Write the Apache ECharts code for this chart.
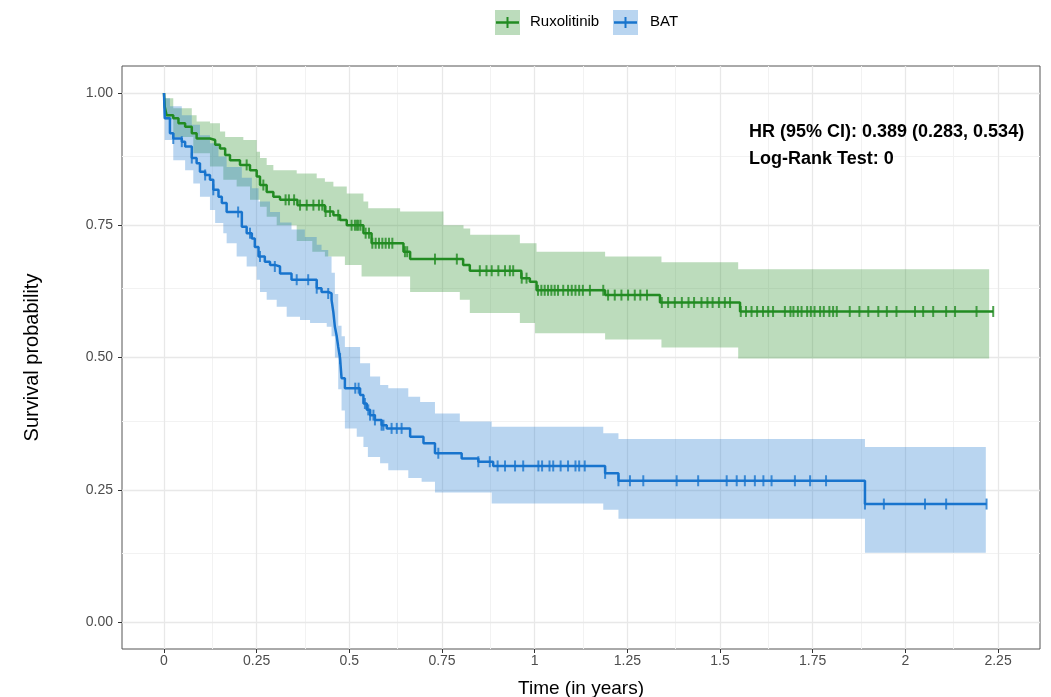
<!DOCTYPE html>
<html>
<head>
<meta charset="utf-8">
<script src="https://cdn.jsdelivr.net/npm/echarts@6/dist/echarts.min.js"></script>
<style>
  html, body { margin: 0; padding: 0; background: #fff; }
  #chart { width: 1051px; height: 697px; }
</style>
</head>
<body>
<div id="chart"></div>
<script>
// Kaplan-Meier steps [time, survival]
const ruxKM = [[0,1],[0.002,0.974],[0.007,0.958],[0.025,0.952],[0.039,0.943],[0.057,0.936],[0.075,0.924],[0.088,0.914],
  [0.124,0.911],[0.138,0.902],[0.151,0.895],[0.165,0.883],[0.178,0.873],[0.205,0.864],[0.232,0.854],[0.25,0.842],
  [0.259,0.826],[0.277,0.813],[0.295,0.804],[0.313,0.798],[0.36,0.788],[0.434,0.776],[0.457,0.769],[0.475,0.76],
  [0.493,0.75],[0.538,0.735],[0.56,0.716],[0.646,0.7],[0.664,0.686],[0.807,0.675],[0.825,0.664],[0.964,0.65],
  [0.987,0.643],[1.005,0.627],[1.19,0.618],[1.338,0.604],[1.554,0.587]];
const ruxEnd = 2.237;
const ruxUpper = [[0,1],[0.002,0.99],[0.025,0.971],[0.075,0.958],[0.088,0.946],[0.124,0.943],[0.151,0.927],[0.165,0.917],
  [0.214,0.911],[0.25,0.889],[0.259,0.877],[0.277,0.864],[0.295,0.854],[0.358,0.848],[0.412,0.839],[0.434,0.832],
  [0.457,0.823],[0.493,0.81],[0.538,0.795],[0.551,0.782],[0.637,0.776],[0.754,0.75],[0.808,0.744],[0.826,0.732],
  [0.96,0.716],[1.005,0.7],[1.19,0.691],[1.342,0.68],[1.549,0.667]];
const ruxLower = [[0,1],[0.002,0.95],[0.025,0.917],[0.079,0.886],[0.124,0.861],[0.16,0.836],[0.196,0.823],[0.232,0.798],
  [0.259,0.785],[0.277,0.766],[0.304,0.75],[0.358,0.72],[0.4,0.7],[0.434,0.691],[0.488,0.675],[0.533,0.653],
  [0.664,0.624],[0.798,0.609],[0.825,0.584],[0.96,0.565],[1.001,0.546],[1.19,0.534],[1.342,0.519],[1.549,0.498]];
const ruxBandEnd = 2.226;
const ruxCensor = [0.223,0.268,0.328,0.337,0.351,0.367,0.385,0.403,0.418,0.427,0.436,0.448,0.47,0.506,0.515,0.52,
  0.524,0.53,0.544,0.553,0.562,0.571,0.58,0.589,0.598,0.607,0.616,0.65,0.656,0.731,0.79,0.852,0.87,0.884,0.902,0.92,
  0.933,0.942,0.965,0.978,1.009,1.018,1.027,1.036,1.045,1.054,1.063,1.077,1.09,1.1,1.11,1.12,1.13,1.149,1.185,1.198,
  1.216,1.234,1.252,1.27,1.285,1.303,1.343,1.36,1.378,1.397,1.415,1.43,1.45,1.466,1.48,1.497,1.513,1.527,1.556,1.57,
  1.585,1.6,1.616,1.63,1.643,1.675,1.69,1.698,1.71,1.72,1.735,1.745,1.755,1.77,1.78,1.795,1.805,1.815,1.85,1.876,
  1.9,1.927,1.95,1.976,2.026,2.048,2.075,2.11,2.134,2.192,2.237];

const batKM = [[0,1],[0.002,0.952],[0.016,0.924],[0.025,0.914],[0.048,0.908],[0.057,0.899],[0.075,0.877],[0.088,0.867],
  [0.097,0.851],[0.111,0.845],[0.124,0.836],[0.133,0.817],[0.147,0.804],[0.156,0.792],[0.169,0.775],[0.21,0.747],
  [0.223,0.735],[0.237,0.725],[0.245,0.709],[0.255,0.691],[0.272,0.681],[0.286,0.675],[0.299,0.672],[0.313,0.659],
  [0.344,0.647],[0.412,0.631],[0.425,0.624],[0.443,0.621],[0.452,0.609],[0.457,0.585],[0.461,0.558],[0.466,0.54],
  [0.47,0.52],[0.475,0.498],[0.479,0.461],[0.488,0.442],[0.529,0.429],[0.538,0.413],[0.547,0.401],[0.556,0.391],
  [0.569,0.382],[0.587,0.372],[0.601,0.366],[0.664,0.35],[0.7,0.338],[0.731,0.319],[0.803,0.309],[0.848,0.303],
  [0.888,0.295],[1.19,0.281],[1.226,0.267],[1.891,0.223]];
const batEnd = 2.219;
const batUpper = [[0,1],[0.002,0.99],[0.016,0.975],[0.048,0.958],[0.075,0.94],[0.097,0.92],[0.124,0.905],[0.147,0.88],
  [0.169,0.86],[0.21,0.84],[0.237,0.82],[0.255,0.795],[0.286,0.775],[0.313,0.755],[0.344,0.742],[0.38,0.728],
  [0.412,0.713],[0.425,0.703],[0.443,0.691],[0.452,0.66],[0.461,0.62],[0.47,0.56],[0.479,0.54],[0.488,0.52],
  [0.529,0.489],[0.556,0.464],[0.583,0.448],[0.605,0.442],[0.659,0.426],[0.691,0.416],[0.731,0.394],[0.798,0.379],
  [0.884,0.369],[1.185,0.357],[1.226,0.346],[1.891,0.331]];
const batLower = [[0,1],[0.002,0.911],[0.025,0.873],[0.057,0.854],[0.079,0.829],[0.097,0.804],[0.124,0.779],[0.138,0.754],
  [0.16,0.735],[0.169,0.716],[0.196,0.691],[0.223,0.672],[0.25,0.647],[0.259,0.624],[0.277,0.609],[0.304,0.596],
  [0.331,0.577],[0.367,0.571],[0.394,0.565],[0.439,0.558],[0.452,0.54],[0.461,0.5],[0.47,0.44],[0.479,0.4],
  [0.488,0.366],[0.52,0.35],[0.538,0.331],[0.55,0.312],[0.583,0.3],[0.605,0.287],[0.659,0.272],[0.695,0.265],
  [0.731,0.245],[0.884,0.224],[1.185,0.212],[1.226,0.195],[1.891,0.131]];
const batBandEnd = 2.217;
const batCensor = [0.025,0.048,0.075,0.111,0.133,0.2,0.232,0.259,0.299,0.358,0.389,0.412,0.443,0.475,0.516,0.525,
  0.542,0.551,0.556,0.565,0.569,0.587,0.592,0.614,0.628,0.641,0.74,0.848,0.879,0.9,0.92,0.947,0.969,1.01,1.02,1.04,
  1.05,1.07,1.09,1.11,1.12,1.135,1.19,1.226,1.257,1.293,1.383,1.441,1.518,1.545,1.567,1.594,1.617,1.639,1.702,1.743,
  1.786,1.891,1.942,2.053,2.11,2.219];

const xTicks = [0,0.25,0.5,0.75,1,1.25,1.5,1.75,2,2.25];
const xMinor = [0.125,0.375,0.625,0.875,1.125,1.375,1.625,1.875,2.125];
const yTicks = [0,0.25,0.5,0.75,1];
const yMinor = [0.125,0.375,0.625,0.875];
const yTickLabels = ['0.00','0.25','0.50','0.75','1.00'];

const GREEN = '#228B22';
const BLUE = '#1874CD';
const FONT = "'Liberation Sans', Arial, sans-serif";

function survAt(km, t) {
  let s = km[0][1];
  for (const p of km) {
    if (p[0] <= t + 1e-9) s = p[1]; else break;
  }
  return s;
}

// step polygon between upper and lower CI
function band(name, upper, lower, endT, fill) {
  return {
    type: 'custom', name: name, silent: true, z: 2, animation: false,
    data: [[0, 0]],
    renderItem: function (params, api) {
      const pts = [];
      for (let i = 0; i < upper.length; i++) {
        const next = i + 1 < upper.length ? upper[i + 1][0] : endT;
        pts.push(api.coord([upper[i][0], upper[i][1]]));
        pts.push(api.coord([next, upper[i][1]]));
      }
      for (let i = lower.length - 1; i >= 0; i--) {
        const next = i + 1 < lower.length ? lower[i + 1][0] : endT;
        pts.push(api.coord([next, lower[i][1]]));
        pts.push(api.coord([lower[i][0], lower[i][1]]));
      }
      return { type: 'polygon', shape: { points: pts }, style: { fill: fill } };
    }
  };
}

function kmLine(name, km, endT, color) {
  return {
    type: 'line', name: name, step: 'end', showSymbol: false, z: 3, animation: false,
    lineStyle: { color: color, width: 2.5 },
    data: km.concat([[endT, km[km.length - 1][1]]])
  };
}

function censor(name, km, times, color) {
  return {
    type: 'scatter', name: name, z: 4, animation: false,
    symbol: 'rect', symbolSize: [2, 11],
    itemStyle: { color: color },
    data: times.map(t => [t, survAt(km, t)])
  };
}

const gridLines = {
  type: 'line', data: [], silent: true, z: 0,
  markLine: {
    silent: true, symbol: 'none', z: 0, animation: false,
    label: { show: false },
    data: [].concat(
      xMinor.map(v => ({ xAxis: v, lineStyle: { color: '#f2f2f2', width: 1, type: 'solid' } })),
      yMinor.map(v => ({ yAxis: v, lineStyle: { color: '#f2f2f2', width: 1, type: 'solid' } })),
      xTicks.map(v => ({ xAxis: v, lineStyle: { color: '#e8e8e8', width: 1.3, type: 'solid' } })),
      yTicks.map(v => ({ yAxis: v, lineStyle: { color: '#e8e8e8', width: 1.3, type: 'solid' } }))
    )
  }
};

function legendKey(x, fill, color) {
  return [
    { type: 'rect', z: 100, shape: { x: x, y: 10, width: 25, height: 25 }, style: { fill: fill } },
    { type: 'line', z: 101, shape: { x1: x + 1, y1: 22.5, x2: x + 24, y2: 22.5 }, style: { stroke: color, lineWidth: 2.5 } },
    { type: 'line', z: 101, shape: { x1: x + 12.5, y1: 17, x2: x + 12.5, y2: 28 }, style: { stroke: color, lineWidth: 2 } }
  ];
}

const chart = echarts.init(document.getElementById('chart'));
chart.setOption({
  animation: false,
  backgroundColor: '#fff',
  grid: {
    left: 122, top: 66, right: 11, bottom: 48, containLabel: false, outerBoundsMode: 'none',
    show: true, borderColor: '#555', borderWidth: 1, backgroundColor: '#fff'
  },
  xAxis: {
    type: 'value', min: -0.1133, max: 2.3632,
    name: 'Time (in years)', nameLocation: 'middle', nameGap: 30,
    nameTextStyle: { color: '#000', fontSize: 19, fontFamily: FONT },
    axisLine: { show: false, onZero: false },
    splitLine: { show: false },
    axisTick: { show: true, customValues: xTicks, length: 4, lineStyle: { color: '#333' } },
    axisLabel: { customValues: xTicks, color: '#4d4d4d', fontSize: 14, fontFamily: "'Liberation Sans Narrow', " + FONT, margin: 5 }
  },
  yAxis: {
    type: 'value', min: -0.051, max: 1.051,
    name: 'Survival probability', nameLocation: 'middle', nameGap: 80,
    nameTextStyle: { color: '#000', fontSize: 20, fontFamily: FONT },
    axisLine: { show: false, onZero: false },
    splitLine: { show: false },
    axisTick: { show: true, customValues: yTicks, length: 4, lineStyle: { color: '#333' } },
    axisLabel: {
      customValues: yTicks, color: '#4d4d4d', fontSize: 14, fontFamily: FONT, margin: 9,
      formatter: v => yTickLabels[yTicks.indexOf(v)] ?? v.toFixed(2)
    }
  },
  graphic: [].concat(
    legendKey(495, 'rgba(34,139,34,0.3)', GREEN),
    legendKey(613, 'rgba(24,116,205,0.3)', BLUE),
    [
      { type: 'text', z: 100, left: 530, top: 14, style: { text: 'Ruxolitinib', fontSize: 15, fontFamily: FONT, fill: '#000' } },
      { type: 'text', z: 100, left: 650, top: 14, style: { text: 'BAT', fontSize: 15, fontFamily: FONT, fill: '#000' } },
      { type: 'text', z: 100, left: 749, top: 123, style: { text: 'HR (95% CI): 0.389 (0.283, 0.534)', fontSize: 18, fontWeight: 'bold', fontFamily: FONT, fill: '#000' } },
      { type: 'text', z: 100, left: 749, top: 150, style: { text: 'Log-Rank Test: 0', fontSize: 18, fontWeight: 'bold', fontFamily: FONT, fill: '#000' } }
    ]
  ),
  series: [
    gridLines,
    band('Ruxolitinib CI', ruxUpper, ruxLower, ruxBandEnd, 'rgba(34,139,34,0.3)'),
    band('BAT CI', batUpper, batLower, batBandEnd, 'rgba(24,116,205,0.3)'),
    kmLine('Ruxolitinib', ruxKM, ruxEnd, GREEN),
    kmLine('BAT', batKM, batEnd, BLUE),
    censor('Ruxolitinib censored', ruxKM, ruxCensor, GREEN),
    censor('BAT censored', batKM, batCensor, BLUE)
  ]
});
</script>
</body>
</html>
